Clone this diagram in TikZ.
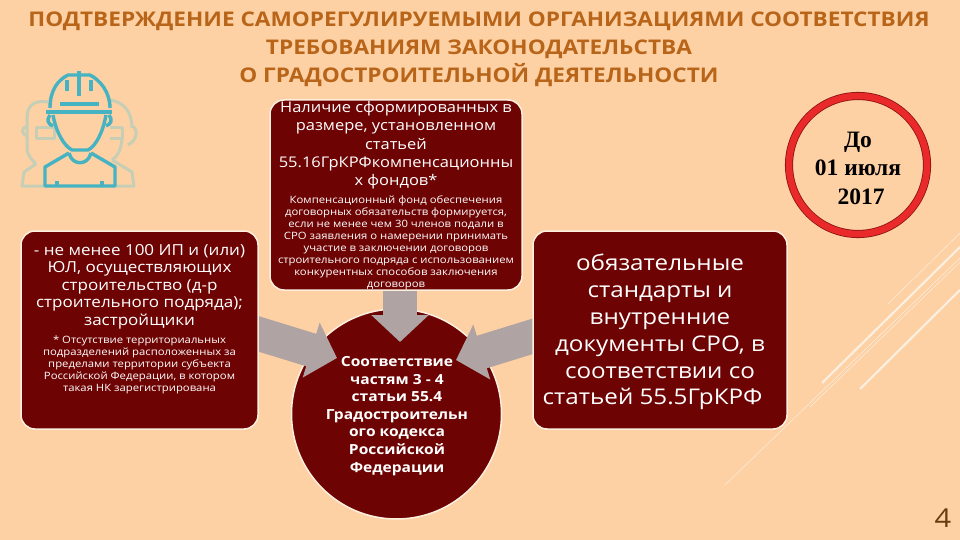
\documentclass[tikz,border=0pt]{standalone}
\usepackage{fontspec}
\setmainfont[FakeStretch=1.12]{Open Sans}
\newfontfamily\datefont{Liberation Serif}
\usetikzlibrary{positioning,arrows.meta}
\definecolor{pagebg}{HTML}{FDD1A4}
\definecolor{boxred}{HTML}{6E0303}
\definecolor{boxrim}{HTML}{FBEFE0}
\definecolor{arrowgrey}{HTML}{B0A3A3}
\definecolor{titleorange}{HTML}{B8651A}
\definecolor{pagebrown}{HTML}{6B3A10}
\definecolor{hatteal}{HTML}{46B3C2}
\definecolor{sagegrey}{HTML}{C6CFB6}
\definecolor{ringred}{HTML}{EA2A2A}
\definecolor{ringdark}{HTML}{8A1212}
\tikzset{
	titletext/.style={
		% The title lines
		text=titleorange,font=\fontsize{20.2}{27.8}\selectfont\bfseries,
		align=center,inner sep=0pt},
	redbox/.style={
		% The shape:
		rectangle,rounded corners=14pt,inner sep=0pt,
		% The border and filling:
		draw=boxrim,line width=1.5pt,fill=boxred},
	bigtext/.style={
		text=white,align=center,inner sep=0pt,
		font=\fontsize{14.5}{18}\selectfont},
	smalltext/.style={
		text=white,align=center,inner sep=0pt,
		font=\fontsize{10.1}{12}\selectfont},
	blockarrow/.style={
		draw=arrowgrey,line width=34pt,
		-{Triangle[width=56pt,length=27pt]}},
	deco/.style={draw=boxrim,line width=#1}
}

\begin{document}
\begin{tikzpicture}[x=1pt,y=-1pt]
	\useasboundingbox (0,0) rectangle (960,540);
	\fill[pagebg] (0,0) rectangle (960,540);
	% Thin lines in the corner
	\draw[deco=2.2pt] (822,383) -- (960,247);
	\draw[deco=2.2pt] (860,389) -- (960,290);
	\draw[deco=.5pt] (725,485) -- (960,258);
	\draw[deco=.5pt] (810,407) -- (960,262);
	\draw[deco=.5pt] (888,304) -- (960,233);
	% Title
	\node[titletext] (title) at (479,49) {ПОДТВЕРЖДЕНИЕ САМОРЕГУЛИРУЕМЫМИ ОРГАНИЗАЦИЯМИ СООТВЕТСТВИЯ\\
		ТРЕБОВАНИЯМ ЗАКОНОДАТЕЛЬСТВА\\
		О ГРАДОСТРОИТЕЛЬНОЙ ДЕЯТЕЛЬНОСТИ};
	% Figures behind the worker
	\begin{scope}[draw=sagegrey,line width=3pt,line join=round]
		\draw (48,102) .. controls (36,100) and (27,104) .. (27,118) -- (27,150) .. controls (28,156) and (32,160) .. (36,164);
		\draw (36,128) rectangle (54,139);
		\draw (27,126) .. controls (21,128) and (21,134) .. (27,136);
		\draw (36,164) -- (24,172) -- (22,186) -- (46,186);
		\draw (110,100) .. controls (124,102) and (132,112) .. (132,128);
		\draw (110,128) -- (122,128) -- (122,139) -- (110,139);
		\draw (132,126) .. controls (138,128) and (138,140) .. (128,145);
		\draw (122,139) .. controls (121,150) and (118,156) .. (112,160);
		\draw (112,160) -- (132,172) -- (134,186) -- (115,186);
	\end{scope}
	% The worker
	\begin{scope}[draw=hatteal,line width=3.4pt,line join=round]
		\draw (50,108) .. controls (50,90) and (58,80) .. (68,75) -- (90,75) .. controls (100,80) and (110,92) .. (110,108);
		\draw[line width=4pt] (46,112) -- (112,112);
		\draw (67,80) -- (67,91);
		\draw (79,71) -- (79,96);
		\draw (91,80) -- (91,91);
		\draw (60,104) -- (99,104);
		\draw (53,115) .. controls (56,132) and (64,146) .. (72,150) -- (88,150) .. controls (96,146) and (103,132) .. (106,115);
		\draw (50,115) .. controls (46,120) and (48,124) .. (53,126);
		\draw (109,115) .. controls (113,120) and (111,124) .. (106,126);
		\draw (69,153) .. controls (72,166) and (88,166) .. (91,153);
		\draw (69,153) -- (45,167) -- (45,186) -- (115,186) -- (115,167) -- (91,153);
		\draw (57,181) -- (57,186);
		\draw (102,181) -- (102,186);
	\end{scope}
	% Central circle
	\node[circle,draw=boxrim,line width=1.5pt,fill=boxred,minimum size=210pt,inner sep=0pt] (centre) at (396.5,414) {};
	% Arrows into the circle
	\coordinate (lefttail) at (246,330);
	\coordinate (lefttip) at (337,358);
	\coordinate (toptail) at (400,280);
	\coordinate (toptip) at (400,342);
	\coordinate (righttail) at (545,332.5);
	\coordinate (righttip) at (456,360);
	\draw[blockarrow] (lefttail) -- (lefttip);
	\draw[blockarrow] (toptail) -- (toptip);
	\draw[blockarrow] (righttail) -- (righttip);
	% The boxes
	\node[redbox,minimum width=237pt,minimum height=198pt] (leftbox) at (139.5,330) {};
	\node[redbox,minimum width=252pt,minimum height=190pt] (topbox) at (396,195) {};
	\node[redbox,minimum width=254pt,minimum height=198pt] (rightbox) at (660,330) {};
	% Texts of the boxes
	\node[bigtext,font=\fontsize{15.2}{17.4}\selectfont,below=14pt of leftbox.north] (leftmain) {- не менее 100 ИП и (или)\\
		ЮЛ, осуществляющих\\
		строительство (д-р\\
		строительного подряда);\\
		застройщики};
	\node[smalltext,below=7pt of leftmain] (leftnote) {* Отсутствие территориальных\\
		подразделений расположенных за\\
		пределами территории субъекта\\
		Российской Федерации, в котором\\
		такая НК зарегистрирована};
	\node[bigtext,font=\fontsize{14.7}{18.3}\selectfont,below=2pt of topbox.north] (topmain) {Наличие сформированных в\\
		размере, установленном\\
		статьей\\
		55.16ГрКРФкомпенсационны\\
		х фондов*};
	\node[smalltext,below=6pt of topmain] (topnote) {Компенсационный фонд обеспечения\\
		договорных обязательств формируется,\\
		если не менее чем 30 членов подали в\\
		СРО заявления о намерении принимать\\
		участие в заключении договоров\\
		строительного подряда с использованием\\
		конкурентных способов заключения\\
		договоров};
	\node[bigtext,font=\fontsize{21.6}{26.9}\selectfont] (righttext) at (660,332) {обязательные\\
		стандарты и\\
		внутренние\\
		документы СРО, в\\
		соответствии со\\
		статьей 55.5ГрКРФ\hspace*{15pt}};
	\node[bigtext,font=\fontsize{13.9}{17.6}\selectfont\bfseries] (centretext) at (397,416) {Соответствие\\
		частям 3 - 4\\
		статьи 55.4\\
		Градостроительн\\
		ого кодекса\\
		Российской\\
		Федерации};
	% The date
	\node[circle,draw=ringdark,line width=.8pt,double=ringred,double distance=6.5pt,minimum size=138pt,inner sep=0pt,
		align=center,font=\datefont\fontsize{23.5}{28.5}\selectfont\bfseries] (deadline) at (858,165) {\rule{0pt}{22pt}До\\
		01 июля\\
		\hspace*{6pt}2017};
	% The page number
	\node[text=pagebrown,font=\fontsize{26}{26}\selectfont,inner sep=0pt] (pagenum) at (943,518) {4};
\end{tikzpicture}
\end{document}
